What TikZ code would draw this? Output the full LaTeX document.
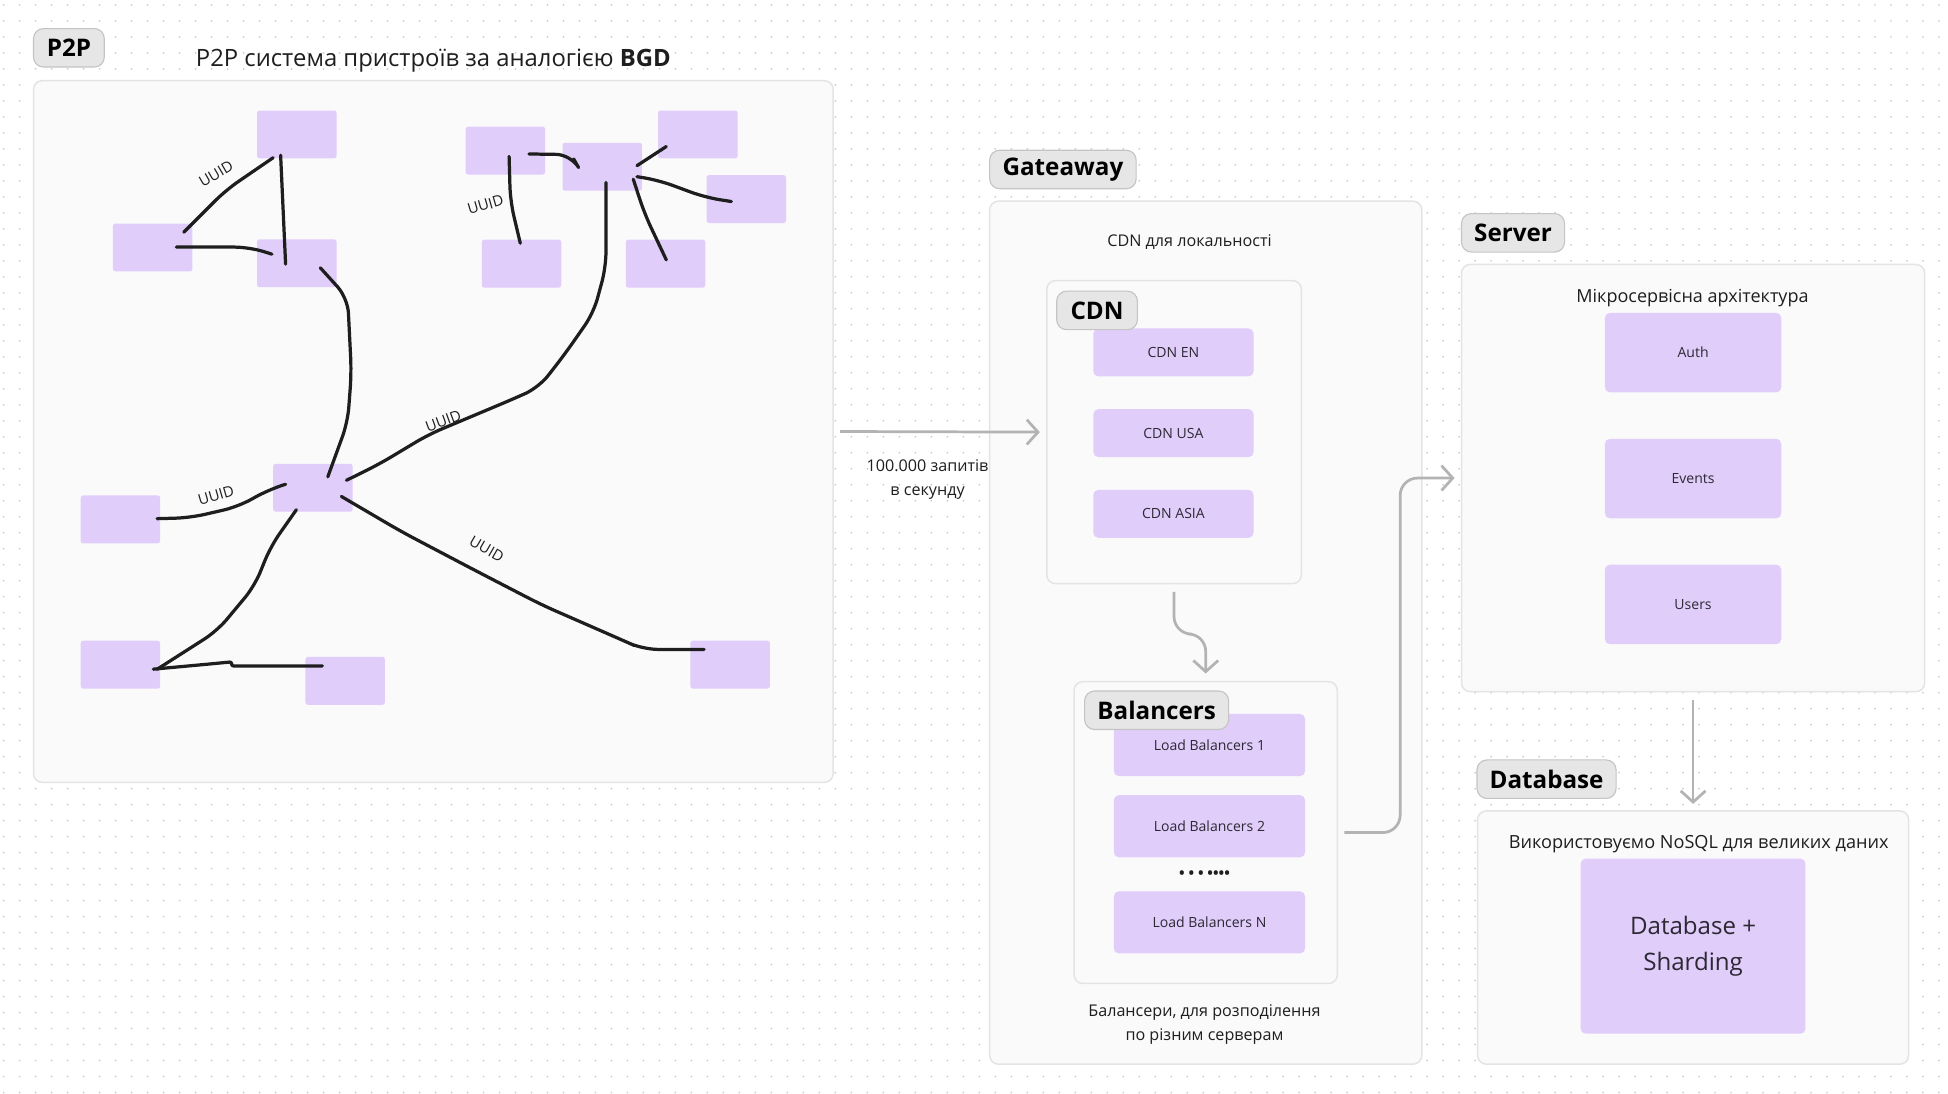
\documentclass[tikz,border=0pt]{standalone}
\usepackage{fontspec}
\setmainfont{Open Sans}
\usetikzlibrary{positioning,arrows.meta}

\definecolor{griddot}{RGB}{205,205,205}
\definecolor{panelfill}{RGB}{250,250,250}
\definecolor{panelline}{RGB}{228,228,228}
\definecolor{tagfill}{RGB}{230,230,230}
\definecolor{tagline}{RGB}{196,196,196}
\definecolor{lilac}{RGB}{224,205,250}
\definecolor{ink}{RGB}{30,30,30}
\definecolor{flowgrey}{RGB}{179,179,179}
\definecolor{boxtext}{RGB}{44,40,52}

\begin{document}
\begin{tikzpicture}[
    x=1pt, y=-1pt,
    panel/.style={draw=panelline, fill=panelfill, line width=1.2pt, rounded corners=7pt, inner sep=0pt},
    tagbox/.style={draw=tagline, fill=tagfill, line width=0.9pt, rounded corners=8pt, minimum height=31pt, inner sep=0pt, text=black, font=\fontsize{19.5}{22}\selectfont\bfseries},
    peer/.style={fill=lilac, rounded corners=2pt, minimum width=64pt, minimum height=38.6pt, inner sep=0pt},
    service/.style={fill=lilac, rounded corners=4pt, inner sep=0pt, text=boxtext, font=\fontsize{11.3}{12}\selectfont},
    cdnbox/.style={service, minimum width=129pt, minimum height=38.6pt},
    lbbox/.style={service, minimum width=154pt, minimum height=50pt},
    msbox/.style={service, minimum width=142pt, minimum height=64pt},
    notetext/.style={align=center, text=ink, font=\fontsize{13}{19}\selectfont},
    uuidtext/.style={text=ink, inner sep=0pt, font=\fontsize{12}{13}\selectfont},
    link/.style={draw=ink, line width=2.6pt, line cap=round, line join=round, rounded corners=12pt},
    flow/.style={draw=flowgrey, line width=2.2pt, rounded corners=14pt, -{Straight Barb[length=9pt, width=20pt]}}
]
    % Canvas
    \fill[white] (0,0) rectangle (1568,877);
    \foreach \row [evaluate=\row as \yy using 4+12.88*\row] in {0,...,68}
        \draw[griddot, line width=1.6pt, line cap=round, dash pattern=on 0pt off 12.88pt] (3,\yy) -- (1568,\yy);
    \useasboundingbox (0,0) rectangle (1568,877);

    % P2P
    \node[panel, minimum width=644pt, minimum height=565pt] (p2p) at (349,347.5) {};
    \node[tagbox, minimum width=57pt] (p2ptag) at (55.5,38.5) {P2P};
    \node[text=ink, font=\fontsize{19.2}{21}\selectfont] (p2ptitle) at (349,49) {P2P система пристроїв за аналогією \textbf{BGD}};

    \node[peer] (pa) at (239,108.3) {};
    \node[peer] (pb) at (123,199.3) {};
    \node[peer] (pc) at (239,212) {};
    \node[peer] (pd) at (407,121.3) {};
    \node[peer] (pe) at (485,134.3) {};
    \node[peer] (pf) at (562,108.3) {};
    \node[peer] (pg) at (601,160.3) {};
    \node[peer] (ph) at (420,212.3) {};
    \node[peer] (pi) at (536,212.3) {};
    \node[peer] (hub) at (252,392.8) {};
    \node[peer] (pk) at (97,418.3) {};
    \node[peer] (pl) at (97,535.3) {};
    \node[peer] (pm) at (278,548.3) {};
    \node[peer] (pn) at (588,535.3) {};

    % Hand drawn links
    \draw[link] ([shift={(25,-12.3)}]pb.center) -- (182,153) -- ([shift={(-19,18.7)}]pa.center);
    \draw[link] ([shift={(-13,16.7)}]pa.center) -- ([shift={(-9,0.7)}]pc.center);
    \draw[link] ([shift={(19,-0.3)}]pb.center) -- (201,199) -- ([shift={(-20,-7.3)}]pc.center);
    \draw[link] ([shift={(19,3.7)}]pc.center) -- (280,240) -- (283,300) -- (280,340) -- ([shift={(12,-8.8)}]hub.center);
    \draw[link] ([shift={(3,4.7)}]pd.center) -- (411,162) -- ([shift={(-1,-16.4)}]ph.center);
    \draw[link] ([shift={(19,2.7)}]pd.center) -- (460,124.5) -- ([shift={(-23,-6.3)}]pe.center);
    \draw[link] ([shift={(28,-0.9)}]pe.center) -- ([shift={(-25.4,9.7)}]pf.center);
    \draw[link] ([shift={(28,8)}]pe.center) -- (530,145) -- (568,159) -- ([shift={(-12,2)}]pg.center);
    \draw[link] ([shift={(25,10)}]pe.center) -- (519,172) -- ([shift={(0.6,-3)}]pi.center);
    \draw[link] ([shift={(3,12.7)}]pe.center) -- (488,215) -- (478,252) -- (455,285) -- (434,312) -- (414,321) -- (345,350) -- (305,374) -- ([shift={(27,-6)}]hub.center);
    \draw[link] ([shift={(29.5,-0.6)}]pk.center) -- (153,417) -- (192,408) -- (216,394.5) -- ([shift={(-22,-2.8)}]hub.center);
    \draw[link] ([shift={(-13.3,17.7)}]hub.center) -- (218,440) -- (205,472) -- (175,508) -- ([shift={(29.5,3.7)}]pl.center);
    \draw[link, rounded corners=2pt] ([shift={(26.5,3.6)}]pl.center) -- (166,535) -- (187,533) -- (186,536.3) -- ([shift={(-18.4,-12)}]pm.center);
    \draw[link] ([shift={(22.9,7)}]hub.center) -- (323,428) -- (380,458) -- (436,487) -- (500,515) -- (518,523) -- ([shift={(-21,-12.3)}]pn.center);

    \node[uuidtext, rotate=30] (uuida) at (174,140) {UUID};
    \node[uuidtext, rotate=16] (uuidb) at (391,165) {UUID};
    \node[uuidtext, rotate=20] (uuidc) at (357,339) {UUID};
    \node[uuidtext, rotate=16] (uuidd) at (174,399) {UUID};
    \node[uuidtext, rotate=-30] (uuide) at (392,442) {UUID};

    % Gateaway
    \node[panel, minimum width=348pt, minimum height=695pt] (gateway) at (971,509.5) {};
    \node[tagbox, minimum width=118pt] (gatewaytag) at (856,136.5) {Gateaway};
    \node[notetext] (cdnnote) at (958,195) {CDN для локальності};

    \node[panel, minimum width=205pt, minimum height=244pt] (cdn) at (945.5,348) {};
    \node[cdnbox] (cdnen) at (945,283.8) {CDN EN};
    \node[cdnbox, below=26pt of cdnen] (cdnusa) {CDN USA};
    \node[cdnbox, below=26pt of cdnusa] (cdnasia) {CDN ASIA};
    \node[tagbox, minimum width=65pt] (cdntag) at (883.5,250) {CDN};

    \node[panel, minimum width=212pt, minimum height=243pt] (bal) at (971,670.5) {};
    \node[lbbox] (lbone) at (974,600) {Load Balancers 1};
    \node[lbbox, below=15pt of lbone] (lbtwo) {Load Balancers 2};
    \node[text=ink, font=\fontsize{12}{13}\selectfont\bfseries] (lbdots) at (970,704) {• • • ••••};
    \node[lbbox, below=27pt of lbtwo] (lbn) {Load Balancers N};
    \node[tagbox, minimum width=116pt] (baltag) at (931.5,572) {Balancers};
    \node[notetext] (balnote) at (970,825) {Балансери, для розподілення\\по різним серверам};

    % Server
    \node[panel, minimum width=373pt, minimum height=344pt] (server) at (1363.5,385) {};
    \node[tagbox, minimum width=83pt] (servertag) at (1218.5,187.5) {Server};
    \node[notetext, font=\fontsize{14.5}{16}\selectfont] (servernote) at (1363,240) {Мікросервісна архітектура};
    \node[msbox] (auth) at (1363.5,284) {Auth};
    \node[msbox, below=37pt of auth] (events) {Events};
    \node[msbox, below=37pt of events] (users) {Users};

    % Database
    \node[panel, minimum width=347pt, minimum height=204pt] (db) at (1363.5,755) {};
    \node[tagbox, minimum width=112pt] (dbtag) at (1245.5,627.5) {Database};
    \node[notetext, font=\fontsize{14.6}{16}\selectfont] (dbnote) at (1368,680) {Використовуємо NoSQL для великих даних};
    \node[service, minimum width=181pt, minimum height=141pt, align=center, font=\fontsize{19.4}{29}\selectfont] (shards) at (1363.5,762) {Database +\\Sharding};

    % Arrows
    \draw[flow] ([shift={(5,0)}]p2p.east) -- ([shift={(-5,0)}]cdn.west);
    \node[notetext] (rate) at (747,386) {100.000 запитів\\в секунду};
    \draw[flow] ([shift={(0,6)}]cdn.south) -- ++(0,34) -| ([shift={(0,-6)}]bal.north);
    \draw[flow] ([shift={(5,0)}]bal.east) -- ++(45,0) |- ([shift={(-5,0)}]server.west);
    \draw[flow] ([shift={(0,6)}]server.south) -- ([shift={(0,-5)}]db.north);
\end{tikzpicture}
\end{document}
